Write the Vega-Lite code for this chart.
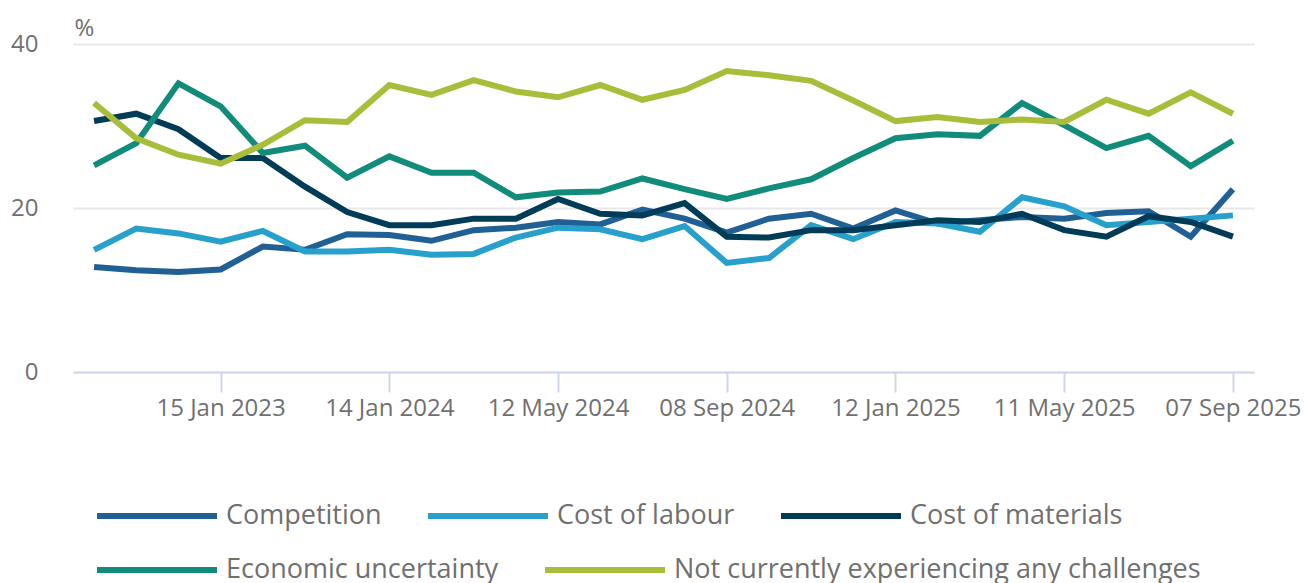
{
  "$schema": "https://vega.github.io/schema/vega-lite/v6.json",
  "width": 1181,
  "height": 328,
  "autosize": {"type": "none"},
  "padding": {"left": 73, "top": 44, "right": 50, "bottom": 211},
  "background": "white",
  "config": {
    "font": "Open Sans",
    "view": {"stroke": null}
  },
  "datasets": {
    "rows": [
      {"date": "24 Apr 2022", "series": "Competition", "value": 12.8},
      {"date": "24 Jul 2022", "series": "Competition", "value": 12.4},
      {"date": "16 Oct 2022", "series": "Competition", "value": 12.2},
      {"date": "15 Jan 2023", "series": "Competition", "value": 12.5},
      {"date": "16 Apr 2023", "series": "Competition", "value": 15.3},
      {"date": "16 Jul 2023", "series": "Competition", "value": 14.9},
      {"date": "15 Oct 2023", "series": "Competition", "value": 16.8},
      {"date": "14 Jan 2024", "series": "Competition", "value": 16.7},
      {"date": "11 Feb 2024", "series": "Competition", "value": 16.0},
      {"date": "10 Mar 2024", "series": "Competition", "value": 17.3},
      {"date": "07 Apr 2024", "series": "Competition", "value": 17.6},
      {"date": "12 May 2024", "series": "Competition", "value": 18.3},
      {"date": "09 Jun 2024", "series": "Competition", "value": 18.0},
      {"date": "07 Jul 2024", "series": "Competition", "value": 19.8},
      {"date": "04 Aug 2024", "series": "Competition", "value": 18.7},
      {"date": "08 Sep 2024", "series": "Competition", "value": 17.0},
      {"date": "06 Oct 2024", "series": "Competition", "value": 18.7},
      {"date": "03 Nov 2024", "series": "Competition", "value": 19.3},
      {"date": "08 Dec 2024", "series": "Competition", "value": 17.5},
      {"date": "12 Jan 2025", "series": "Competition", "value": 19.7},
      {"date": "09 Feb 2025", "series": "Competition", "value": 18.1},
      {"date": "09 Mar 2025", "series": "Competition", "value": 18.5},
      {"date": "06 Apr 2025", "series": "Competition", "value": 18.9},
      {"date": "11 May 2025", "series": "Competition", "value": 18.7},
      {"date": "08 Jun 2025", "series": "Competition", "value": 19.4},
      {"date": "06 Jul 2025", "series": "Competition", "value": 19.6},
      {"date": "03 Aug 2025", "series": "Competition", "value": 16.5},
      {"date": "07 Sep 2025", "series": "Competition", "value": 22.3},

      {"date": "24 Apr 2022", "series": "Cost of labour", "value": 14.9},
      {"date": "24 Jul 2022", "series": "Cost of labour", "value": 17.5},
      {"date": "16 Oct 2022", "series": "Cost of labour", "value": 16.9},
      {"date": "15 Jan 2023", "series": "Cost of labour", "value": 15.9},
      {"date": "16 Apr 2023", "series": "Cost of labour", "value": 17.2},
      {"date": "16 Jul 2023", "series": "Cost of labour", "value": 14.7},
      {"date": "15 Oct 2023", "series": "Cost of labour", "value": 14.7},
      {"date": "14 Jan 2024", "series": "Cost of labour", "value": 14.9},
      {"date": "11 Feb 2024", "series": "Cost of labour", "value": 14.3},
      {"date": "10 Mar 2024", "series": "Cost of labour", "value": 14.4},
      {"date": "07 Apr 2024", "series": "Cost of labour", "value": 16.4},
      {"date": "12 May 2024", "series": "Cost of labour", "value": 17.6},
      {"date": "09 Jun 2024", "series": "Cost of labour", "value": 17.4},
      {"date": "07 Jul 2024", "series": "Cost of labour", "value": 16.2},
      {"date": "04 Aug 2024", "series": "Cost of labour", "value": 17.8},
      {"date": "08 Sep 2024", "series": "Cost of labour", "value": 13.3},
      {"date": "06 Oct 2024", "series": "Cost of labour", "value": 13.9},
      {"date": "03 Nov 2024", "series": "Cost of labour", "value": 17.9},
      {"date": "08 Dec 2024", "series": "Cost of labour", "value": 16.2},
      {"date": "12 Jan 2025", "series": "Cost of labour", "value": 18.3},
      {"date": "09 Feb 2025", "series": "Cost of labour", "value": 18.1},
      {"date": "09 Mar 2025", "series": "Cost of labour", "value": 17.1},
      {"date": "06 Apr 2025", "series": "Cost of labour", "value": 21.3},
      {"date": "11 May 2025", "series": "Cost of labour", "value": 20.2},
      {"date": "08 Jun 2025", "series": "Cost of labour", "value": 17.9},
      {"date": "06 Jul 2025", "series": "Cost of labour", "value": 18.3},
      {"date": "03 Aug 2025", "series": "Cost of labour", "value": 18.7},
      {"date": "07 Sep 2025", "series": "Cost of labour", "value": 19.1},

      {"date": "24 Apr 2022", "series": "Cost of materials", "value": 30.6},
      {"date": "24 Jul 2022", "series": "Cost of materials", "value": 31.5},
      {"date": "16 Oct 2022", "series": "Cost of materials", "value": 29.6},
      {"date": "15 Jan 2023", "series": "Cost of materials", "value": 26.1},
      {"date": "16 Apr 2023", "series": "Cost of materials", "value": 26.1},
      {"date": "16 Jul 2023", "series": "Cost of materials", "value": 22.6},
      {"date": "15 Oct 2023", "series": "Cost of materials", "value": 19.5},
      {"date": "14 Jan 2024", "series": "Cost of materials", "value": 17.9},
      {"date": "11 Feb 2024", "series": "Cost of materials", "value": 17.9},
      {"date": "10 Mar 2024", "series": "Cost of materials", "value": 18.7},
      {"date": "07 Apr 2024", "series": "Cost of materials", "value": 18.7},
      {"date": "12 May 2024", "series": "Cost of materials", "value": 21.1},
      {"date": "09 Jun 2024", "series": "Cost of materials", "value": 19.3},
      {"date": "07 Jul 2024", "series": "Cost of materials", "value": 19.1},
      {"date": "04 Aug 2024", "series": "Cost of materials", "value": 20.6},
      {"date": "08 Sep 2024", "series": "Cost of materials", "value": 16.5},
      {"date": "06 Oct 2024", "series": "Cost of materials", "value": 16.4},
      {"date": "03 Nov 2024", "series": "Cost of materials", "value": 17.3},
      {"date": "08 Dec 2024", "series": "Cost of materials", "value": 17.3},
      {"date": "12 Jan 2025", "series": "Cost of materials", "value": 17.9},
      {"date": "09 Feb 2025", "series": "Cost of materials", "value": 18.5},
      {"date": "09 Mar 2025", "series": "Cost of materials", "value": 18.3},
      {"date": "06 Apr 2025", "series": "Cost of materials", "value": 19.3},
      {"date": "11 May 2025", "series": "Cost of materials", "value": 17.3},
      {"date": "08 Jun 2025", "series": "Cost of materials", "value": 16.5},
      {"date": "06 Jul 2025", "series": "Cost of materials", "value": 19.0},
      {"date": "03 Aug 2025", "series": "Cost of materials", "value": 18.3},
      {"date": "07 Sep 2025", "series": "Cost of materials", "value": 16.5},

      {"date": "24 Apr 2022", "series": "Economic uncertainty", "value": 25.2},
      {"date": "24 Jul 2022", "series": "Economic uncertainty", "value": 27.9},
      {"date": "16 Oct 2022", "series": "Economic uncertainty", "value": 35.2},
      {"date": "15 Jan 2023", "series": "Economic uncertainty", "value": 32.4},
      {"date": "16 Apr 2023", "series": "Economic uncertainty", "value": 26.7},
      {"date": "16 Jul 2023", "series": "Economic uncertainty", "value": 27.6},
      {"date": "15 Oct 2023", "series": "Economic uncertainty", "value": 23.7},
      {"date": "14 Jan 2024", "series": "Economic uncertainty", "value": 26.3},
      {"date": "11 Feb 2024", "series": "Economic uncertainty", "value": 24.3},
      {"date": "10 Mar 2024", "series": "Economic uncertainty", "value": 24.3},
      {"date": "07 Apr 2024", "series": "Economic uncertainty", "value": 21.3},
      {"date": "12 May 2024", "series": "Economic uncertainty", "value": 21.9},
      {"date": "09 Jun 2024", "series": "Economic uncertainty", "value": 22.0},
      {"date": "07 Jul 2024", "series": "Economic uncertainty", "value": 23.6},
      {"date": "04 Aug 2024", "series": "Economic uncertainty", "value": 22.3},
      {"date": "08 Sep 2024", "series": "Economic uncertainty", "value": 21.1},
      {"date": "06 Oct 2024", "series": "Economic uncertainty", "value": 22.4},
      {"date": "03 Nov 2024", "series": "Economic uncertainty", "value": 23.5},
      {"date": "08 Dec 2024", "series": "Economic uncertainty", "value": 26.1},
      {"date": "12 Jan 2025", "series": "Economic uncertainty", "value": 28.5},
      {"date": "09 Feb 2025", "series": "Economic uncertainty", "value": 29.0},
      {"date": "09 Mar 2025", "series": "Economic uncertainty", "value": 28.8},
      {"date": "06 Apr 2025", "series": "Economic uncertainty", "value": 32.8},
      {"date": "11 May 2025", "series": "Economic uncertainty", "value": 30.1},
      {"date": "08 Jun 2025", "series": "Economic uncertainty", "value": 27.3},
      {"date": "06 Jul 2025", "series": "Economic uncertainty", "value": 28.8},
      {"date": "03 Aug 2025", "series": "Economic uncertainty", "value": 25.1},
      {"date": "07 Sep 2025", "series": "Economic uncertainty", "value": 28.2},

      {"date": "24 Apr 2022", "series": "Not currently experiencing any challenges", "value": 32.8},
      {"date": "24 Jul 2022", "series": "Not currently experiencing any challenges", "value": 28.5},
      {"date": "16 Oct 2022", "series": "Not currently experiencing any challenges", "value": 26.5},
      {"date": "15 Jan 2023", "series": "Not currently experiencing any challenges", "value": 25.4},
      {"date": "16 Apr 2023", "series": "Not currently experiencing any challenges", "value": 27.7},
      {"date": "16 Jul 2023", "series": "Not currently experiencing any challenges", "value": 30.7},
      {"date": "15 Oct 2023", "series": "Not currently experiencing any challenges", "value": 30.5},
      {"date": "14 Jan 2024", "series": "Not currently experiencing any challenges", "value": 35.0},
      {"date": "11 Feb 2024", "series": "Not currently experiencing any challenges", "value": 33.8},
      {"date": "10 Mar 2024", "series": "Not currently experiencing any challenges", "value": 35.6},
      {"date": "07 Apr 2024", "series": "Not currently experiencing any challenges", "value": 34.2},
      {"date": "12 May 2024", "series": "Not currently experiencing any challenges", "value": 33.5},
      {"date": "09 Jun 2024", "series": "Not currently experiencing any challenges", "value": 35.0},
      {"date": "07 Jul 2024", "series": "Not currently experiencing any challenges", "value": 33.2},
      {"date": "04 Aug 2024", "series": "Not currently experiencing any challenges", "value": 34.4},
      {"date": "08 Sep 2024", "series": "Not currently experiencing any challenges", "value": 36.7},
      {"date": "06 Oct 2024", "series": "Not currently experiencing any challenges", "value": 36.2},
      {"date": "03 Nov 2024", "series": "Not currently experiencing any challenges", "value": 35.5},
      {"date": "08 Dec 2024", "series": "Not currently experiencing any challenges", "value": 33.1},
      {"date": "12 Jan 2025", "series": "Not currently experiencing any challenges", "value": 30.6},
      {"date": "09 Feb 2025", "series": "Not currently experiencing any challenges", "value": 31.1},
      {"date": "09 Mar 2025", "series": "Not currently experiencing any challenges", "value": 30.5},
      {"date": "06 Apr 2025", "series": "Not currently experiencing any challenges", "value": 30.8},
      {"date": "11 May 2025", "series": "Not currently experiencing any challenges", "value": 30.5},
      {"date": "08 Jun 2025", "series": "Not currently experiencing any challenges", "value": 33.2},
      {"date": "06 Jul 2025", "series": "Not currently experiencing any challenges", "value": 31.5},
      {"date": "03 Aug 2025", "series": "Not currently experiencing any challenges", "value": 34.1},
      {"date": "07 Sep 2025", "series": "Not currently experiencing any challenges", "value": 31.5}
    ]
  },
  "data": {"name": "rows"},
  "encoding": {
    "x": {
      "field": "date",
      "type": "ordinal",
      "sort": null,
      "scale": {"type": "point", "padding": 0.5},
      "axis": {
        "title": null,
        "values": ["15 Jan 2023", "14 Jan 2024", "12 May 2024", "08 Sep 2024", "12 Jan 2025", "11 May 2025", "07 Sep 2025"],
        "labelAngle": 0,
        "labelOverlap": false,
        "labelFontSize": 24,
        "labelColor": "#707070",
        "labelPadding": 4,
        "domainColor": "#cfd8e8",
        "domainWidth": 2,
        "tickColor": "#cfd8e8",
        "tickWidth": 2,
        "tickSize": 20,
        "grid": false,
        "zindex": 1
      }
    },
    "y": {
      "field": "value",
      "type": "quantitative",
      "scale": {"domain": [0, 40], "nice": false},
      "axis": {
        "values": [0, 20, 40],
        "title": "%",
        "titleAngle": 0,
        "titleX": 1,
        "titleY": -9,
        "titleAlign": "left",
        "titleBaseline": "alphabetic",
        "titleFontSize": 24,
        "titleFontWeight": "normal",
        "titleColor": "#707070",
        "domain": false,
        "ticks": false,
        "labelPadding": 35,
        "labelFontSize": 24,
        "labelColor": "#707070",
        "gridColor": "#e8e8e8",
        "gridWidth": 2
      }
    }
  },
  "layer": [
    {
      "transform": [{"filter": {"field": "series", "oneOf": ["Competition", "Cost of labour", "Cost of materials"]}}],
      "mark": {"type": "line", "strokeWidth": 6},
      "encoding": {
        "color": {
          "field": "series",
          "type": "nominal",
          "scale": {"domain": ["Competition", "Cost of labour", "Cost of materials"], "range": ["#206095", "#27a0cc", "#003c57"]},
          "legend": {
            "title": null,
            "orient": "none",
            "legendX": 21,
            "legendY": 409,
            "direction": "horizontal",
            "symbolType": "stroke",
            "symbolSize": 14400,
            "symbolStrokeWidth": 6,
            "labelFontSize": 27,
            "labelColor": "#707070",
            "labelOffset": 6,
            "labelLimit": 800,
            "columnPadding": 34,
            "padding": 0
          }
        }
      }
    },
    {
      "transform": [{"filter": {"field": "series", "oneOf": ["Economic uncertainty", "Not currently experiencing any challenges"]}}],
      "mark": {"type": "line", "strokeWidth": 6},
      "encoding": {
        "stroke": {
          "field": "series",
          "type": "nominal",
          "scale": {"domain": ["Economic uncertainty", "Not currently experiencing any challenges"], "range": ["#118c7b", "#a8bd3a"]},
          "legend": {
            "title": null,
            "orient": "none",
            "legendX": 21,
            "legendY": 463,
            "direction": "horizontal",
            "symbolType": "stroke",
            "symbolSize": 14400,
            "symbolStrokeWidth": 6,
            "labelFontSize": 27,
            "labelColor": "#707070",
            "labelOffset": 6,
            "labelLimit": 800,
            "columnPadding": 34,
            "padding": 0
          }
        }
      }
    }
  ]
}
